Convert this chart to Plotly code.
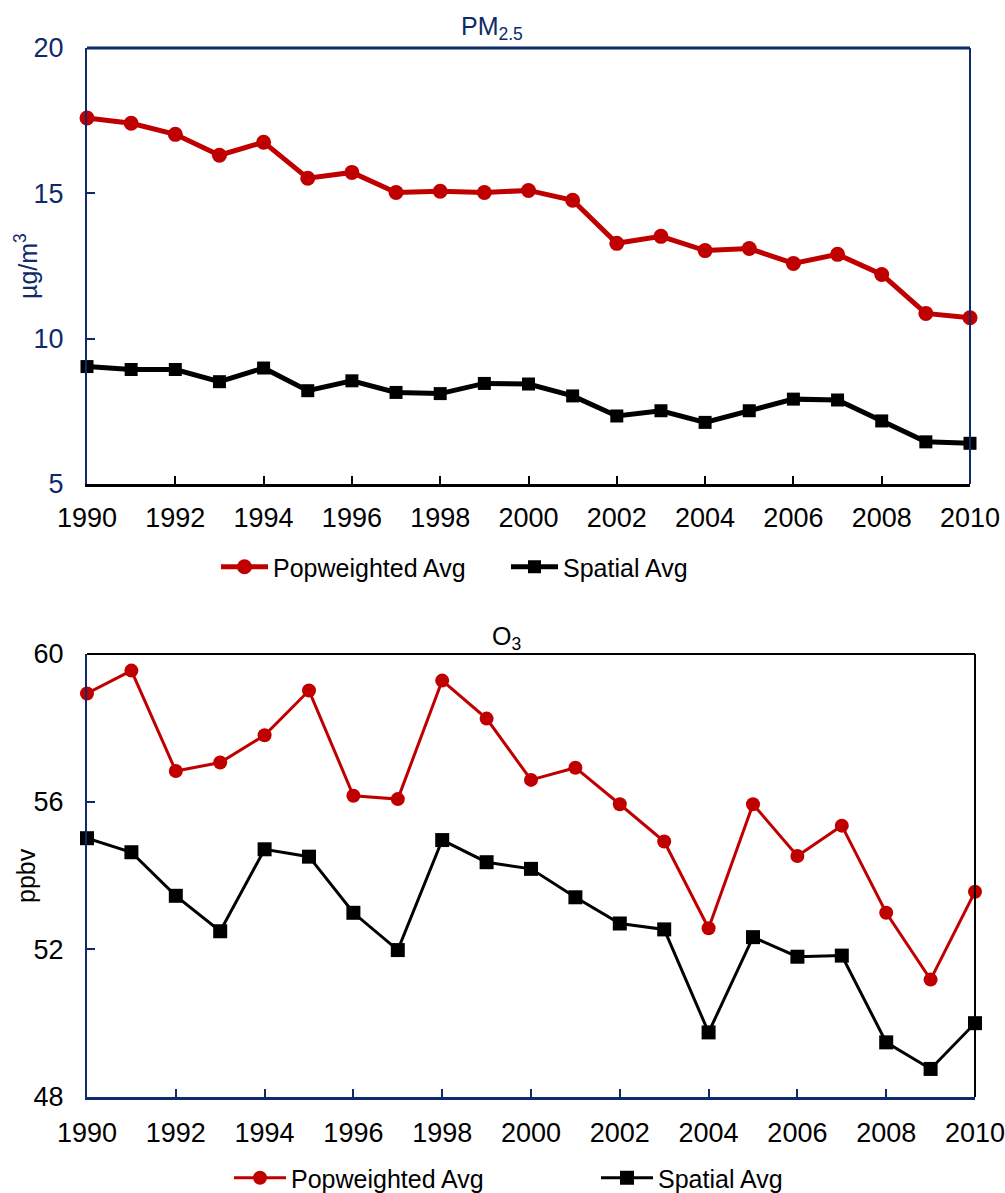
import plotly.graph_objects as go

years = list(range(1990, 2011))
pm_pop = [17.59, 17.41, 17.03, 16.31, 16.76, 15.52, 15.72, 15.03, 15.07, 15.03,
          15.10, 14.76, 13.28, 13.52, 13.03, 13.10, 12.59, 12.90, 12.21, 10.87, 10.72]
pm_spa = [9.04, 8.94, 8.94, 8.52, 8.99, 8.21, 8.55, 8.15, 8.11, 8.46,
          8.44, 8.03, 7.34, 7.52, 7.12, 7.52, 7.92, 7.89, 7.17, 6.45, 6.40]
o3_pop = [58.93, 59.55, 56.83, 57.06, 57.80, 59.01, 56.16, 56.07, 59.28, 58.25,
          56.59, 56.92, 55.93, 54.92, 52.57, 55.93, 54.53, 55.35, 52.99, 51.18, 53.56]
o3_spa = [55.01, 54.63, 53.45, 52.49, 54.71, 54.51, 52.99, 51.98, 54.96, 54.36,
          54.18, 53.41, 52.70, 52.54, 49.75, 52.33, 51.80, 51.83, 49.48, 48.76, 50.00]
x_ticks = list(range(1990, 2011, 2))
pm_ticks = [5, 10, 15, 20]
o3_ticks = [48, 52, 56, 60]
series_names = ["Popweighted Avg", "Spatial Avg"]

W, H = 1005, 1193
RED = "#C00000"
NAVY = "#0E2A6B"
FONT = "Liberation Sans, Arial, sans-serif"

def px(x):
    return x / W

def py(y):
    return 1 - y / H

fig = go.Figure()

# top panel
fig.add_trace(go.Scatter(x=years, y=pm_pop, name=series_names[0], mode="lines+markers",
                         line=dict(color=RED, width=5), marker=dict(symbol="circle", size=15, color=RED),
                         cliponaxis=False, xaxis="x", yaxis="y", legend="legend"))
fig.add_trace(go.Scatter(x=years, y=pm_spa, name=series_names[1], mode="lines+markers",
                         line=dict(color="black", width=5), marker=dict(symbol="square", size=13, color="black"),
                         cliponaxis=False, xaxis="x", yaxis="y", legend="legend"))
# bottom panel
fig.add_trace(go.Scatter(x=years, y=o3_pop, name=series_names[0], mode="lines+markers",
                         line=dict(color=RED, width=3), marker=dict(symbol="circle", size=14, color=RED),
                         cliponaxis=False, xaxis="x2", yaxis="y2", legend="legend2"))
fig.add_trace(go.Scatter(x=years, y=o3_spa, name=series_names[1], mode="lines+markers",
                         line=dict(color="black", width=3), marker=dict(symbol="square", size=14, color="black"),
                         cliponaxis=False, xaxis="x2", yaxis="y2", legend="legend2"))

tickfont = dict(family=FONT, size=27, color="black")

fig.update_layout(
    width=W, height=H, margin=dict(l=0, r=0, t=0, b=0, autoexpand=False),
    paper_bgcolor="white", plot_bgcolor="white",
    font=dict(family=FONT, size=25, color="black"),
    xaxis=dict(domain=[px(87), px(970)], range=[1990, 2010], tickvals=x_ticks,
               ticks="inside", ticklen=8, tickwidth=2, tickcolor="black",
               showline=True, linecolor="black", linewidth=3, showgrid=False, zeroline=False,
               tickfont=tickfont, ticklabelstandoff=8, anchor="y", automargin=False,
               ticklabeloverflow="allow"),
    yaxis=dict(domain=[py(484), py(48)], range=[5, 20], tickvals=pm_ticks,
               ticks="inside", ticklen=8, tickwidth=2, tickcolor=NAVY,
               showline=True, linecolor=NAVY, linewidth=2, showgrid=False, zeroline=False,
               tickfont=dict(family=FONT, size=27, color=NAVY), ticklabelstandoff=16, anchor="x",
               automargin=False, ticklabeloverflow="allow"),
    xaxis2=dict(domain=[px(87), px(975)], range=[1990, 2010], tickvals=x_ticks,
                ticks="inside", ticklen=8, tickwidth=2, tickcolor=NAVY,
                showline=True, linecolor=NAVY, linewidth=3, showgrid=False, zeroline=False,
                tickfont=tickfont, ticklabelstandoff=10, anchor="y2", automargin=False,
                ticklabeloverflow="allow"),
    yaxis2=dict(domain=[py(1097), py(654)], range=[48, 60], tickvals=o3_ticks,
                ticks="inside", ticklen=8, tickwidth=2, tickcolor=NAVY,
                showline=True, linecolor=NAVY, linewidth=2, showgrid=False, zeroline=False,
                tickfont=tickfont, ticklabelstandoff=16, anchor="x2", automargin=False,
                ticklabeloverflow="allow"),
    legend=dict(orientation="h", x=px(216), xanchor="left", y=py(567), yanchor="middle",
                font=dict(family=FONT, size=25, color="black"), itemwidth=47,
                entrywidth=228, entrywidthmode="pixels", bgcolor="rgba(0,0,0,0)"),
    legend2=dict(orientation="h", x=px(229), xanchor="left", y=py(1178), yanchor="middle",
                 font=dict(family=FONT, size=25, color="black"), itemwidth=52,
                 entrywidth=300, entrywidthmode="pixels", bgcolor="rgba(0,0,0,0)"),
    showlegend=True,
)

# top/right frame lines
fig.add_shape(type="line", xref="x domain", yref="y domain", x0=0, x1=1, y0=1, y1=1,
              line=dict(color=NAVY, width=3))
fig.add_shape(type="line", xref="x domain", yref="y domain", x0=1, x1=1, y0=0, y1=1,
              line=dict(color=NAVY, width=2))
fig.add_shape(type="line", xref="x2 domain", yref="y2 domain", x0=0, x1=1, y0=1, y1=1,
              line=dict(color="black", width=2))
fig.add_shape(type="line", xref="x2 domain", yref="y2 domain", x0=1, x1=1, y0=0, y1=1,
              line=dict(color="black", width=2))

# titles
fig.add_annotation(text="PM<sub>2.5</sub>", xref="paper", yref="paper", x=px(492), y=py(28),
                   xanchor="center", yanchor="middle", showarrow=False,
                   font=dict(family=FONT, size=25, color=NAVY))
fig.add_annotation(text="O<sub>3</sub>", xref="paper", yref="paper", x=px(506), y=py(638),
                   xanchor="center", yanchor="middle", showarrow=False,
                   font=dict(family=FONT, size=25, color="black"))
fig.add_annotation(text="µg/m<sup>3</sup>", xref="paper", yref="paper", x=px(26), y=py(266),
                   xanchor="center", yanchor="middle", showarrow=False, textangle=-90,
                   font=dict(family=FONT, size=25, color=NAVY))
fig.add_annotation(text="ppbv", xref="paper", yref="paper", x=px(26), y=py(876),
                   xanchor="center", yanchor="middle", showarrow=False, textangle=-90,
                   font=dict(family=FONT, size=25, color="black"))

fig.write_html("out.html", config={"displayModeBar": False},
               post_script="document.body.style.margin='0';document.body.style.overflow='hidden';")
